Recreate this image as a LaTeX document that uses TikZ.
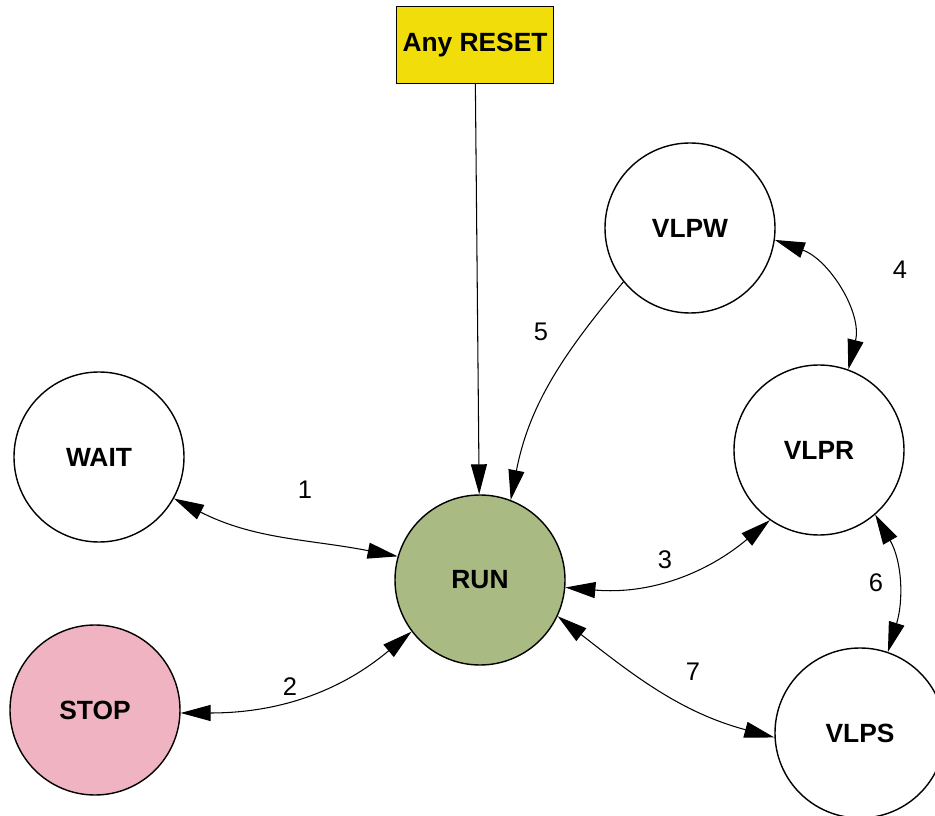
\documentclass[tikz,border=0pt]{standalone}
\usepackage{fontspec}
\setmainfont{Liberation Sans}
\usepackage{xcolor}
\usetikzlibrary{arrows.meta}

\definecolor{resetyellow}{RGB}{240,221,10}
\definecolor{rungreen}{RGB}{169,187,131}
\definecolor{stoppink}{RGB}{239,179,194}

\begin{document}
\begin{tikzpicture}[
                state/.style={circle, draw, line width=0.8pt, minimum size=3.4cm, inner sep=0pt, font=\fontsize{15}{18}\selectfont\bfseries},
                reset/.style={rectangle, draw, line width=0.8pt, fill=resetyellow, minimum width=3.1cm, minimum height=1.54cm, font=\fontsize{15}{18}\selectfont\bfseries},
                transition/.style={line width=0.6pt, -{Triangle[length=6mm,width=3.2mm]}},
                bitransition/.style={line width=0.6pt, {Triangle[length=6mm,width=3.2mm]}-{Triangle[length=6mm,width=3.2mm]}},
                trlabel/.style={font=\fontsize{14.5}{17}\selectfont}
            ]
                \useasboundingbox (0,0) rectangle (18.7,-16.32);

                % Les états
                \node[reset] (RESET) at (9.5,-0.9) {Any RESET};
                \node[state] (VLPW) at (13.8,-4.56) {VLPW};
                \node[state] (WAIT) at (1.98,-9.14) {WAIT};
                \node[state] (VLPR) at (16.38,-9.0) {VLPR};
                \node[state, fill=rungreen] (RUN) at (9.6,-11.6) {RUN};
                \node[state, fill=stoppink] (STOP) at (1.9,-14.2) {STOP};
                \node[state] (VLPS) at (17.2,-14.66) {VLPS};

                % Transitions
                \draw[transition] (RESET) -- (RUN);
                \draw[transition] (VLPW.219) to[out=-130, in=79] (RUN.69);
                \draw[bitransition] (VLPW.-8) to[out=-20, in=76] (VLPR.70);
                \draw[bitransition] (WAIT.-29) to[out=-27, in=169] (RUN.164);
                \draw[bitransition] (STOP.-2) to[out=0, in=220] (RUN.217);
                \draw[bitransition] (RUN.-5) to[out=-5, in=220] (VLPR.235);
                \draw[bitransition] (VLPR.-49) to[out=-60, in=73] (VLPS.71);
                \draw[bitransition] (RUN.-25) to[out=-38, in=165] (VLPS.183);

                % Numéros des transitions
                \node[trlabel] (L1) at (6.1,-9.8) {1};
                \node[trlabel] (L2) at (5.8,-13.74) {2};
                \node[trlabel] (L3) at (13.3,-11.2) {3};
                \node[trlabel] (L4) at (18.0,-5.4) {4};
                \node[trlabel] (L5) at (10.82,-6.64) {5};
                \node[trlabel] (L6) at (17.52,-11.66) {6};
                \node[trlabel] (L7) at (13.86,-13.44) {7};
            \end{tikzpicture}
\end{document}
